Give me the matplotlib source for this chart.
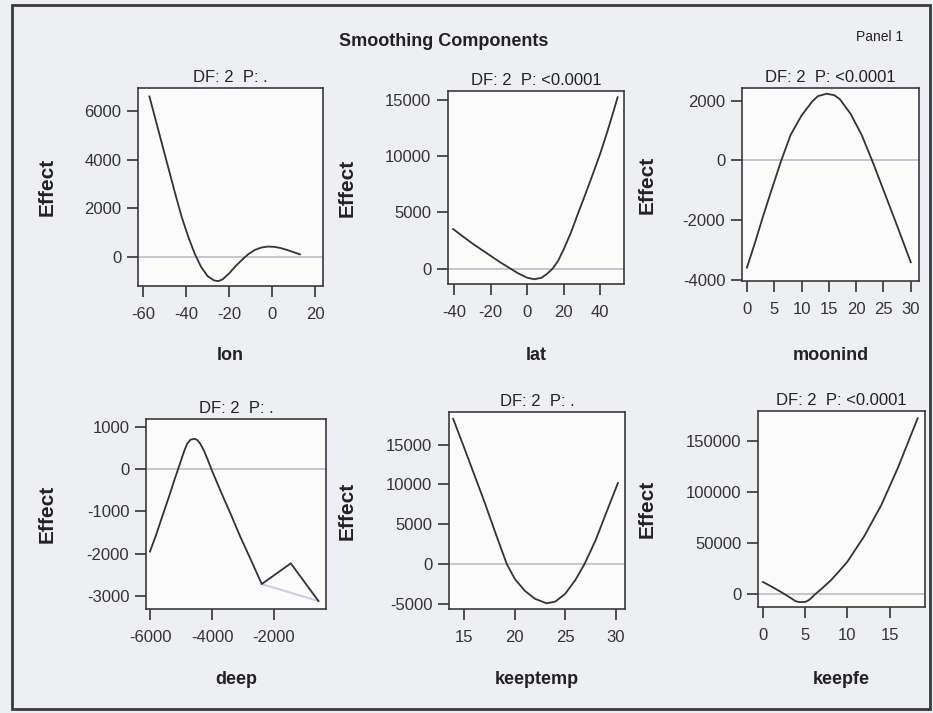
import numpy as np
import matplotlib
matplotlib.use('Agg')
import matplotlib.pyplot as plt
from matplotlib.patches import Rectangle

plt.rcParams['font.family'] = ['Liberation Sans', 'DejaVu Sans']
plt.rcParams['axes.unicode_minus'] = False

# values
lon_x = [-57, -54, -51, -48, -45, -42, -39, -36, -33, -30, -27, -25, -23, -20, -17, -14, -11, -8, -5, -2, 1, 4, 7, 10, 13]
lon_y = [6600, 5600, 4600, 3600, 2600, 1650, 850, 150, -400, -780, -960, -990, -920, -680, -380, -120, 120, 290, 390, 430, 420, 370, 290, 200, 110]

lat_x = [-40.5, -35, -30, -25, -20, -15, -10, -5, 0, 4, 8, 11, 14, 17, 20, 24, 28, 32, 36, 40, 44, 47, 49.6]
lat_y = [3530, 2850, 2250, 1700, 1150, 600, 100, -400, -800, -940, -800, -450, 0, 700, 1700, 3200, 4950, 6650, 8400, 10200, 12200, 13800, 15240]

moon_x = [0, 1.5, 3, 4.5, 6.3, 8, 10, 12, 13, 14.6, 16, 17, 19, 21, 22.9, 25, 27.5, 30]
moon_y = [-3600, -2750, -1850, -1000, 0, 850, 1500, 1980, 2150, 2230, 2180, 2050, 1550, 850, 0, -1000, -2200, -3420]

deep_x = [-6000, -5800, -5600, -5400, -5200, -5000, -4900, -4800, -4700, -4580, -4480, -4380, -4250, -4150, -4000,
          -3700, -3400, -3100, -2800, -2395, -1460, -568]
deep_y = [-1950, -1550, -1110, -680, -230, 200, 420, 600, 690, 716, 690, 600, 420, 240, -40,
          -560, -1060, -1580, -2060, -2718, -2228, -3119]
deep_faint_x = [-2395, -568]
deep_faint_y = [-2718, -3119]

temp_x = [13.9, 15, 16, 17, 18, 19.2, 20, 21, 22, 23.15, 24, 25, 26, 26.9, 28, 29, 30.2]
temp_y = [18280, 14600, 11200, 7800, 4200, 0, -1900, -3400, -4400, -4960, -4750, -3750, -2000, 0, 3000, 6300, 10190]

fe_x = [0, 1, 2, 3, 3.8, 4.2, 5, 5.5, 6.15, 7, 8, 9, 10, 12, 14, 16, 18.33]
fe_y = [12100, 7700, 3000, -2000, -6300, -7400, -7400, -5200, 0, 6000, 13500, 22500, 32000, 57000, 87000, 124000, 172200]

names = ['lon', 'lat', 'moonind', 'deep', 'keeptemp', 'keepfe']
titles = ['DF: 2  P: .', 'DF: 2  P: <0.0001', 'DF: 2  P: <0.0001',
          'DF: 2  P: .', 'DF: 2  P: .', 'DF: 2  P: <0.0001']
curves = [(lon_x, lon_y), (lat_x, lat_y), (moon_x, moon_y),
          (deep_x, deep_y), (temp_x, temp_y), (fe_x, fe_y)]
xticks = [[-60, -40, -20, 0, 20], [-40, -20, 0, 20, 40], [0, 5, 10, 15, 20, 25, 30],
          [-6000, -4000, -2000], [15, 20, 25, 30], [0, 5, 10, 15]]
yticks = [[0, 2000, 4000, 6000], [0, 5000, 10000, 15000], [-4000, -2000, 0, 2000],
          [-3000, -2000, -1000, 0, 1000], [-5000, 0, 5000, 10000, 15000], [0, 50000, 100000, 150000]]
xlims = [(-62.3, 23.7), (-43.3, 53.1), (-0.9, 31.5), (-6129, -324), (13.49, 30.9), (-0.6, 19.2)]
ylims = [(-1190, 6945), (-1360, 15800), (-4047, 2422), (-3307, 1182), (-5680, 19130), (-12300, 179300)]

# axes boxes in pixels: left, right, top, bottom
boxes = [(138, 323, 88, 286), (448, 624, 91, 284), (742, 919, 88, 281),
         (146, 326, 419, 609), (449, 625, 412, 609), (758, 925, 411, 607)]
ylab_x = [47, 347, 647, 47, 347, 647]
xlab_y = [355, 355, 355, 680, 680, 680]

W, H = 933, 713
fig = plt.figure(figsize=(W / 100, H / 100), dpi=100)
fig.patch.set_facecolor('#eeeff3')

# outer frame
fig.patches.append(Rectangle((12 / W, 1 - 709 / H), 918 / W, 704 / H, transform=fig.transFigure,
                             fill=False, edgecolor='#3a3a3a', linewidth=2))

fig.text(444 / W, 1 - 42 / H, 'Smoothing Components', ha='center', va='center',
         fontsize=13, fontweight='bold', color='#222222')
fig.text(880 / W, 1 - 37 / H, 'Panel 1', ha='center', va='center', fontsize=10, color='#222222')

for i in range(6):
    l, r, t, b = boxes[i]
    ax = fig.add_axes([l / W, 1 - b / H, (r - l) / W, (b - t) / H])
    ax.set_facecolor('#fbfbfc')
    ax.axhline(0, color='#b9bdc9', lw=1.2, zorder=1)
    if names[i] == 'deep':
        ax.plot(deep_faint_x, deep_faint_y, color='#c9cfe2', lw=1.5, zorder=1)
    ax.plot(curves[i][0], curves[i][1], color='#333333', lw=1.3, zorder=2)
    ax.set_xlim(xlims[i])
    ax.set_ylim(ylims[i])
    ax.set_xticks(xticks[i])
    ax.set_yticks(yticks[i])
    ax.tick_params(axis='x', direction='out', length=8, width=1.2, pad=7, labelsize=12, colors='#333333')
    ax.tick_params(axis='y', direction='out', length=8, width=1.2, pad=4, labelsize=12, colors='#333333')
    for s in ax.spines.values():
        s.set_color('#3a3a3a')
        s.set_linewidth(1.2)
    ax.set_title(titles[i], fontsize=12, pad=4, color='#222222')
    fig.text((l + r) / 2 / W, 1 - xlab_y[i] / H, names[i], ha='center', va='center',
             fontsize=13, fontweight='bold', color='#222222')
    fig.text(ylab_x[i] / W, 1 - ((t + b) / 2) / H, 'Effect', ha='center', va='center',
             rotation=90, fontsize=15, fontweight='bold', color='#222222')

plt.savefig('out.png', dpi=100, facecolor=fig.get_facecolor())
